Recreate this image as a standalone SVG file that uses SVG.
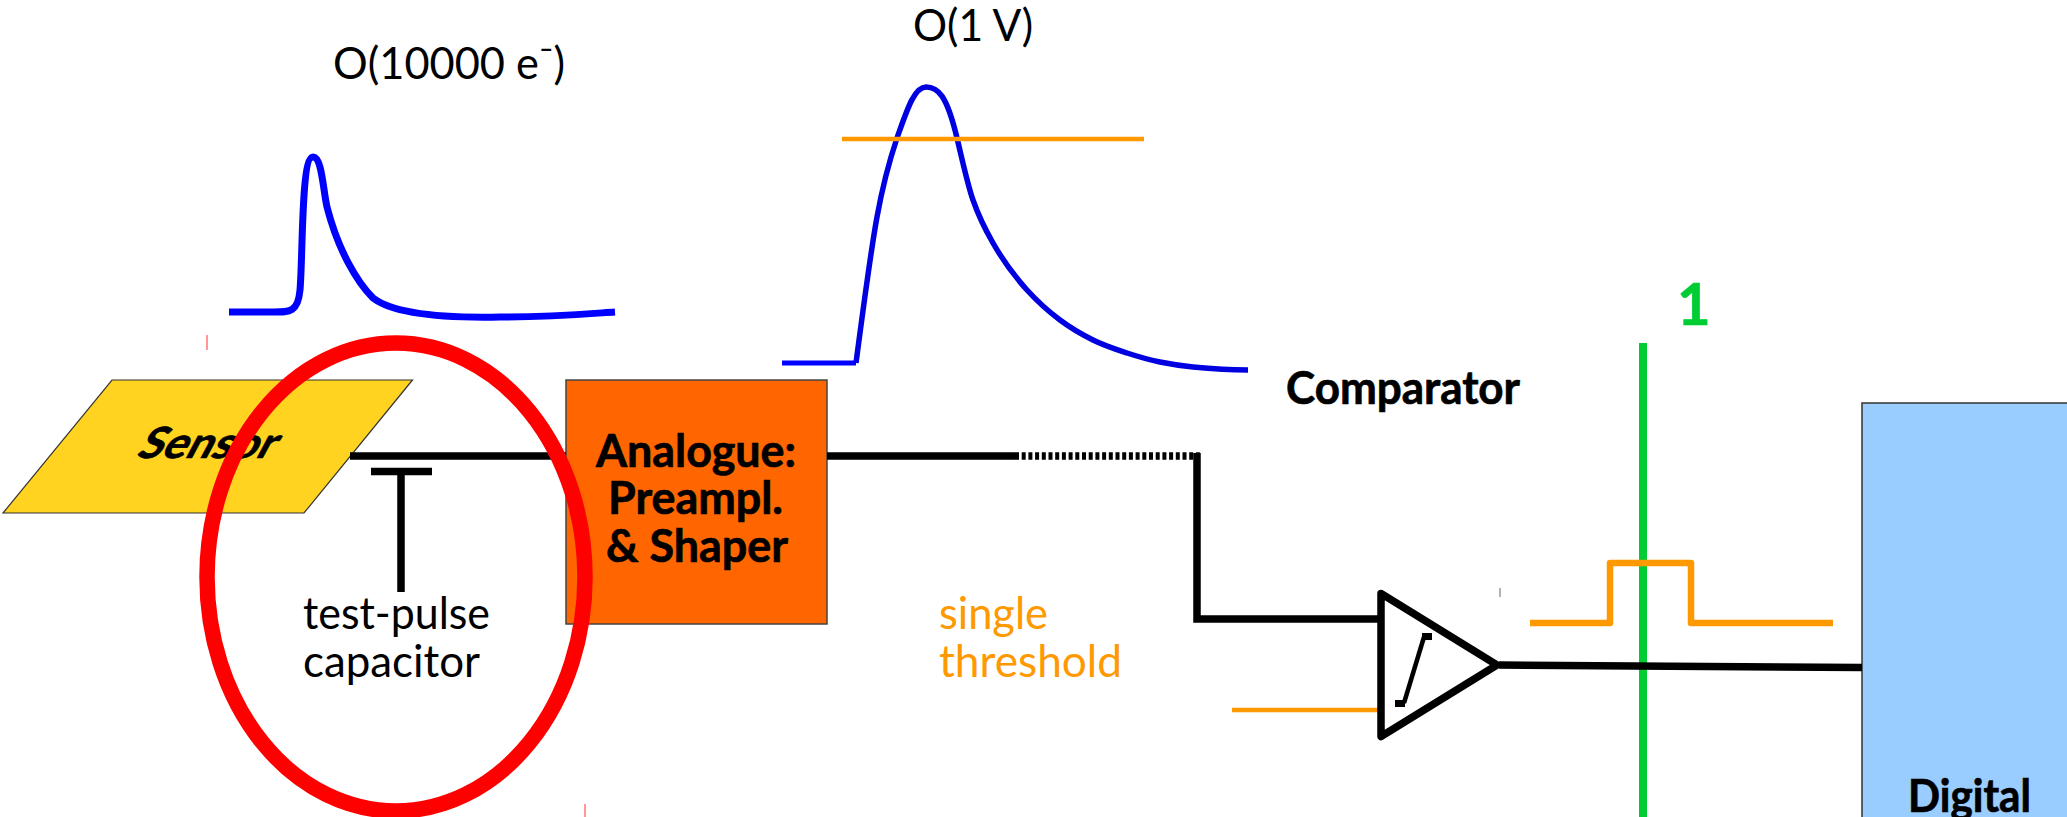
<svg xmlns="http://www.w3.org/2000/svg" width="2067" height="817" viewBox="0 0 2067 817">
<style>
text{font-family:Lato,"Liberation Sans",sans-serif;font-size:45px;fill:#000}
.b{font-weight:700;stroke:#000;stroke-width:.7}
.o{fill:#ff9900}
.wire{fill:none;stroke:#000;stroke-width:7.500}
.or{fill:none;stroke:#ff9900}
.pulse{fill:none;stroke:#0000ff}
</style>
<rect width="2067" height="817" fill="#fff"/>
<g id="sensor">
<polygon points="112,380 412.500,380 304,513 3,513" fill="#ffd320" stroke="#333" stroke-width="1.200"/>
<text transform="translate(135 458) skewX(-28)" class="b" style="font-size:43px" textLength="136" lengthAdjust="spacingAndGlyphs">Sensor</text>
</g>
<g id="analogue">
<rect x="566" y="380" width="261" height="244" fill="#ff6600" stroke="#444" stroke-width="1.500"/>
<text x="596" y="467" class="b" textLength="200" lengthAdjust="spacingAndGlyphs">Analogue:</text>
<text x="608" y="514" class="b" textLength="175" lengthAdjust="spacingAndGlyphs">Preampl.</text>
<text x="606" y="562" class="b" textLength="182" lengthAdjust="spacingAndGlyphs">&amp; Shaper</text>
</g>
<g id="digital">
<rect x="1862" y="403" width="210" height="420" fill="#99ccff" stroke="#333" stroke-width="1.500"/>
<text x="1908" y="812" class="b" textLength="123" lengthAdjust="spacingAndGlyphs">Digital</text>
</g>
<g id="charge-pulse">
<path class="pulse" stroke-width="7" d="M229 312H274C290 312 298 312 300 290C303 255 301 157 313 157C322 157 323 190 327 207C338 250 357 282 373 298C395 315 450 318 500 317C550 317 585 314 615 312"/>
<text x="333" y="79" textLength="232" lengthAdjust="spacingAndGlyphs">O(10000 e⁻)</text>
</g>
<g id="shaper-pulse">
<path class="pulse" stroke-width="5.500" style="stroke:#0000e0" d="M856 363C863 310.500 870 255.500 877 217C883.700 180 890.300 158 897 138C906.700 111 914 87 926 87C938 87 946.700 95 957 138C962.300 160 967.700 185 973 200C979.700 219.400 986.300 231.300 993 243C1004.300 262.800 1015.700 277.500 1027 290C1038 302.100 1049 311.800 1060 320C1071 328.300 1082 334.500 1093 340C1104.300 345.700 1115.700 349.300 1127 353C1138 356.600 1149 359.800 1160 362C1171 364.200 1182 365.900 1193 367C1211.300 368.800 1230 370 1248 370"/>
<path class="pulse" stroke-width="5" d="M782 363H856"/>
<path class="or" stroke-width="4.500" d="M842 139H1144"/>
<text x="913" y="41" textLength="120" lengthAdjust="spacingAndGlyphs">O(1 V)</text>
</g>
<g id="threshold"><text x="939" y="629" class="o" textLength="109" lengthAdjust="spacingAndGlyphs">single</text>
<text x="939" y="677" class="o" textLength="183" lengthAdjust="spacingAndGlyphs">threshold</text></g>
<g id="comparator-label"><text x="1286" y="404" class="b" textLength="234" lengthAdjust="spacingAndGlyphs">Comparator</text></g>
<g id="test-pulse">
<path d="M371 471.500H432M401 471V592" fill="none" stroke="#000" stroke-width="7.500"/>
<text x="303" y="629" textLength="187" lengthAdjust="spacingAndGlyphs">test-pulse</text>
<text x="303" y="677" textLength="177" lengthAdjust="spacingAndGlyphs">capacitor</text>
</g>
<g id="connectors">
<path d="M1643 343V817" fill="none" stroke="#00cc33" stroke-width="8"/>
<path class="wire" d="M350 456H566"/>
<path class="wire" d="M827 456H1015"/>
<path class="wire" stroke-dasharray="4 2.700" d="M1015 456H1200"/>
<path class="wire" d="M1197 453V619H1381"/>
<path d="M1232 710H1380" class="or" stroke-width="4.500"/>
<path d="M1499 665L1862 667.500" class="wire"/>
<path d="M1530 623H1610V563H1691V623H1833" class="or" stroke-width="6.500" stroke-linejoin="round"/>
</g>
<g id="comparator">
<polygon points="1381,593.500 1497,665 1381,736.500" fill="none" stroke="#000" stroke-width="7.500" stroke-linejoin="round"/>
<path d="M1424 637L1404 703" fill="none" stroke="#000" stroke-width="4.500"/>
<rect x="1422" y="633" width="10" height="7"/><rect x="1395" y="700" width="10" height="7"/>
</g>
<g id="output-label"><text x="1677" y="325" class="b" style="font-size:58px;fill:#00cc33;stroke:#00cc33">1</text></g>
<g id="highlight">
<ellipse cx="396" cy="577" rx="189" ry="234" fill="none" stroke="#ff0000" stroke-width="15.500"/>
<path d="M207 335V350M585 804V817" fill="none" stroke="#ff3030" stroke-width="1"/>
<path d="M1500 588V597" fill="none" stroke="#666" stroke-width="1"/>
</g>
</svg>
